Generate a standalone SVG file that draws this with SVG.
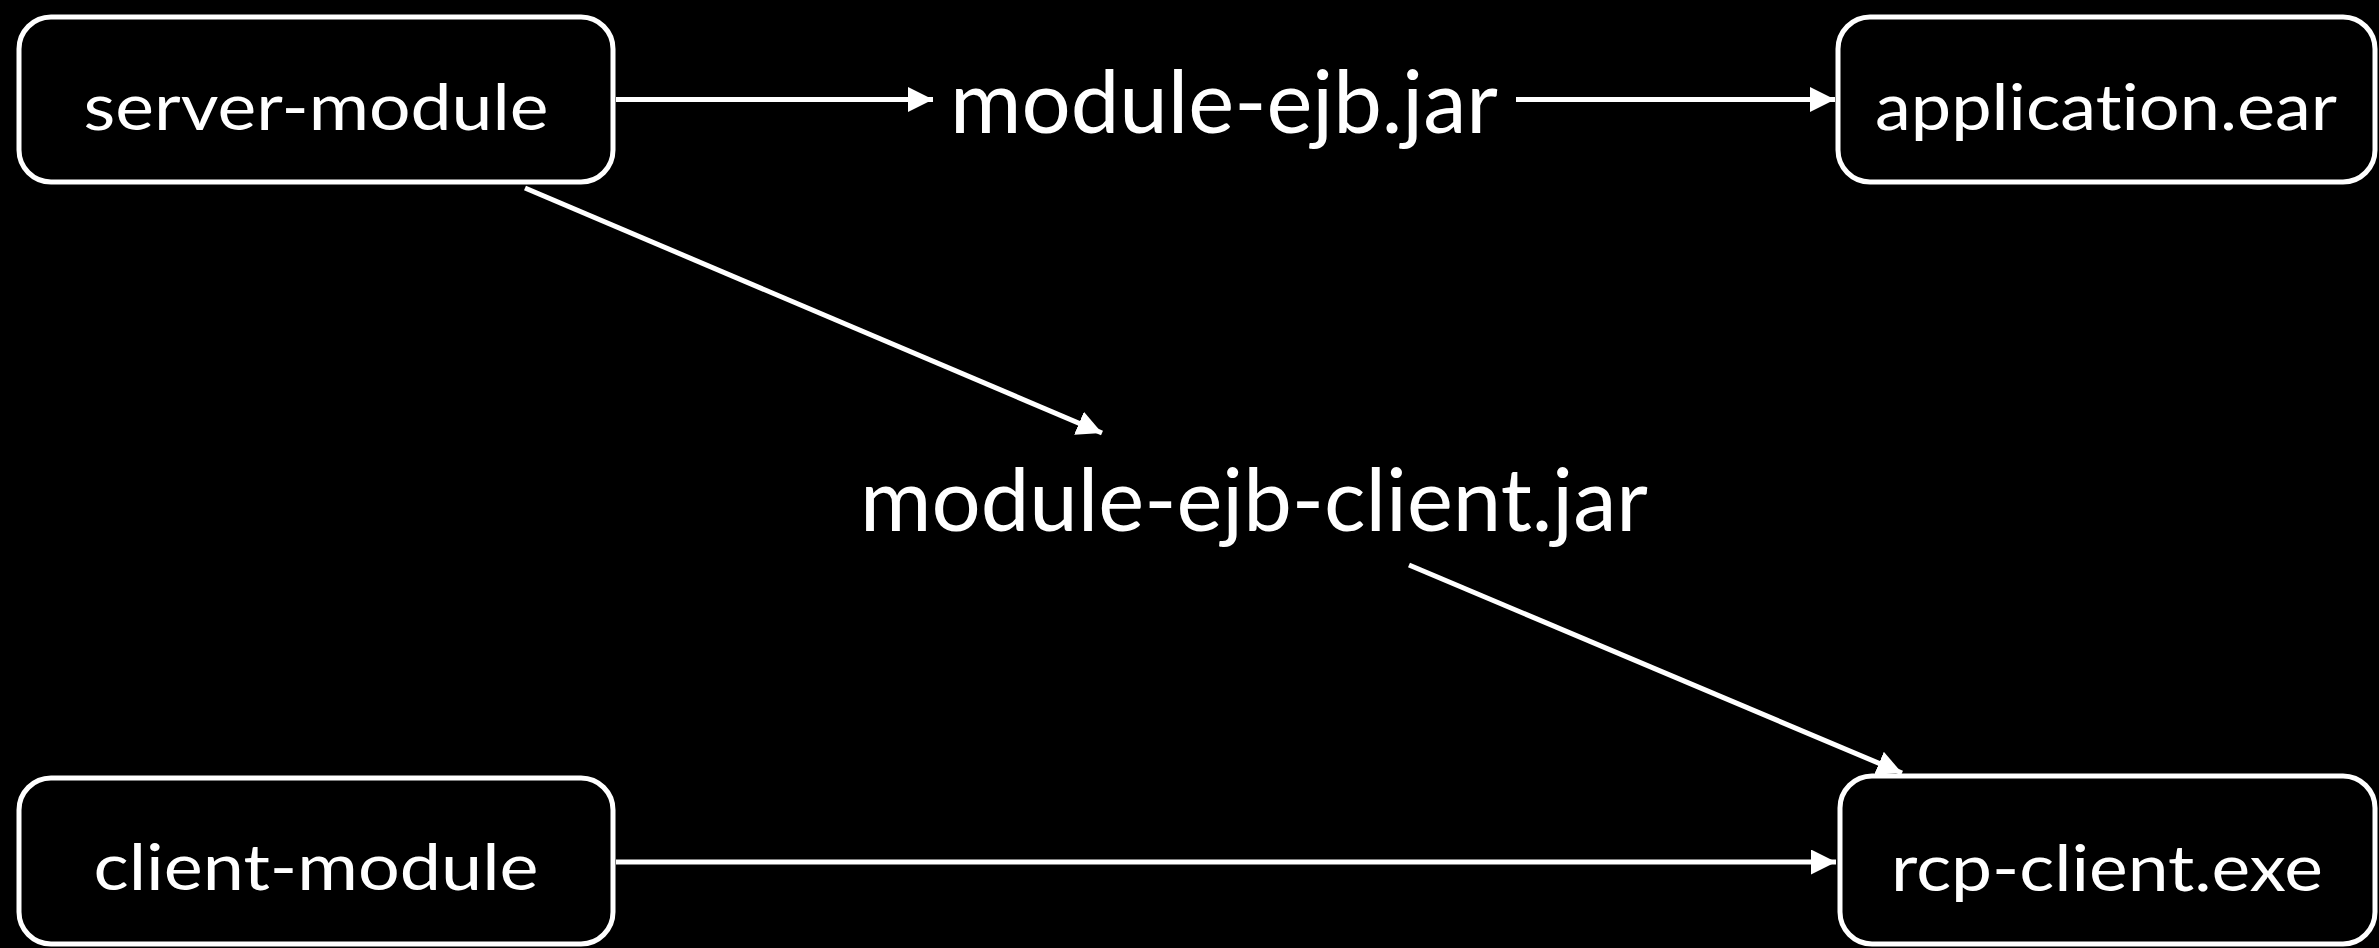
<svg xmlns="http://www.w3.org/2000/svg" width="2379" height="948" viewBox="0 0 2379 948">
  <style>
    .box { fill: #000; stroke: #fff; stroke-width: 5; }
    .lbl { fill: #fff; font-family: Lato, "Open Sans", "Liberation Sans", sans-serif; text-anchor: middle; font-variant-ligatures: none; font-feature-settings: "liga" 0, "clig" 0; }
    .small { font-size: 64px; }
    .big { font-size: 88px; }
    .edge { stroke: #fff; stroke-width: 5; fill: none; marker-end: url(#head); }
  </style>
  <defs>
    <marker id="head" markerUnits="userSpaceOnUse" markerWidth="26" markerHeight="26" refX="25" refY="12.5" orient="auto">
      <path d="M0,0 L25,12.5 L0,25 Z" fill="#fff"/>
    </marker>
  </defs>
  <rect width="2379" height="948" fill="#000"/>

  <g id="connectors">
    <path class="edge" d="M616,99.5 L933,99.5"/>
    <path class="edge" d="M1516,99.5 L1835,99.5"/>
    <path class="edge" d="M525,188 L1102,433"/>
    <path class="edge" d="M1409,565 L1902,773"/>
    <path class="edge" d="M616,862 L1836,862"/>
  </g>

  <g id="server-module">
    <rect class="box" x="19" y="17" width="594" height="165" rx="32" ry="32"/>
    <text class="lbl small" x="316" y="130" textLength="465" lengthAdjust="spacingAndGlyphs">server-module</text>
  </g>

  <g id="application-ear">
    <rect class="box" x="1838" y="17" width="537" height="165" rx="32" ry="32"/>
    <text class="lbl small" x="2106" y="130" textLength="462" lengthAdjust="spacingAndGlyphs">application.ear</text>
  </g>

  <g id="client-module">
    <rect class="box" x="19" y="778" width="594" height="166" rx="32" ry="32"/>
    <text class="lbl small" x="316" y="890" textLength="445" lengthAdjust="spacingAndGlyphs">client-module</text>
  </g>

  <g id="rcp-client-exe">
    <rect class="box" x="1840" y="776" width="535" height="168" rx="32" ry="32"/>
    <text class="lbl small" x="2107" y="891" textLength="432" lengthAdjust="spacingAndGlyphs">rcp-client.exe</text>
  </g>

  <g id="module-ejb-jar">
    <text class="lbl big" x="1224" y="133" textLength="548" lengthAdjust="spacingAndGlyphs">module-ejb.jar</text>
  </g>

  <g id="module-ejb-client-jar">
    <text class="lbl big" x="1254" y="531" textLength="788" lengthAdjust="spacingAndGlyphs">module-ejb-client.jar</text>
  </g>
</svg>
